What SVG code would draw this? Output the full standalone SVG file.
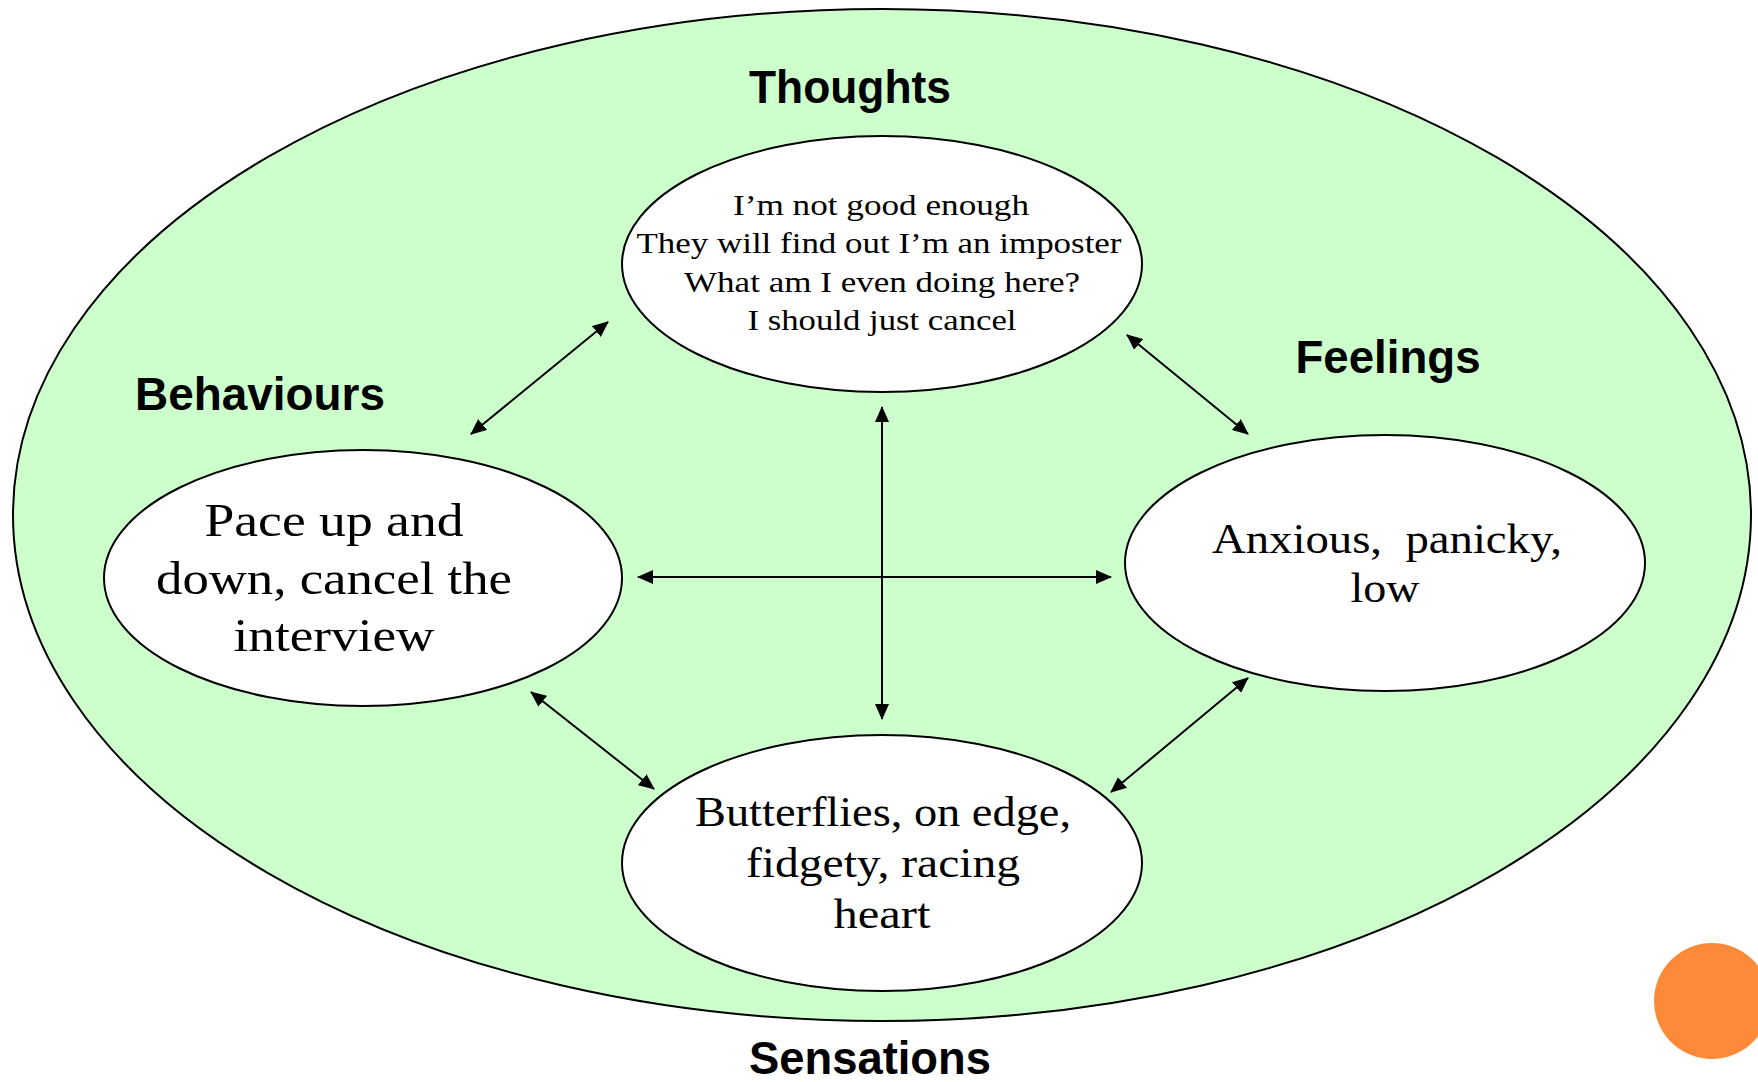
<svg xmlns="http://www.w3.org/2000/svg" width="1758" height="1082" viewBox="0 0 1758 1082">
<defs>
<style>
.outer{fill:#CCFFCC;stroke:#000;stroke-width:2}
.node{fill:#fff;stroke:#000;stroke-width:2}
.lbl{font-family:"Liberation Sans",Arial,sans-serif;font-weight:bold;font-size:47px;fill:#000;text-anchor:middle}
.txt{font-family:"Liberation Serif","Times New Roman",serif;fill:#000;text-anchor:middle}
.conn{stroke:#000;stroke-width:2;fill:none;marker-start:url(#ah);marker-end:url(#ah)}
</style>
<marker id="ah" viewBox="0 0 16 14" refX="15" refY="7" markerWidth="16" markerHeight="14" markerUnits="userSpaceOnUse" orient="auto-start-reverse">
<path d="M0,0 L16,7 L0,14 z" fill="#000"/>
</marker>
</defs>
<rect width="1758" height="1082" fill="#fff"/>
<g id="outer">
<ellipse class="outer" cx="882" cy="515" rx="869" ry="506"/>
</g>
<g id="label-thoughts"><text class="lbl" x="850" y="103" textLength="202" lengthAdjust="spacingAndGlyphs">Thoughts</text></g>
<g id="label-behaviours"><text class="lbl" x="260" y="410" textLength="250" lengthAdjust="spacingAndGlyphs">Behaviours</text></g>
<g id="label-feelings"><text class="lbl" x="1388" y="373" textLength="185" lengthAdjust="spacingAndGlyphs">Feelings</text></g>
<g id="label-sensations"><text class="lbl" x="870" y="1074" textLength="242" lengthAdjust="spacingAndGlyphs">Sensations</text></g>
<g id="connectors">
<line class="conn" x1="471" y1="434" x2="608" y2="322"/>
<line class="conn" x1="1127" y1="335" x2="1248" y2="434"/>
<line class="conn" x1="882" y1="407" x2="882" y2="719"/>
<line class="conn" x1="638" y1="577" x2="1111" y2="577"/>
<line class="conn" x1="531" y1="692" x2="654" y2="789"/>
<line class="conn" x1="1248" y1="678" x2="1111" y2="792"/>
</g>
<g id="node-thoughts">
<ellipse class="node" cx="882" cy="264" rx="260" ry="128"/>
<text class="txt" font-size="29" x="881" y="215" textLength="296" lengthAdjust="spacingAndGlyphs">I’m not good enough</text>
<text class="txt" font-size="29" x="879" y="253" textLength="485" lengthAdjust="spacingAndGlyphs">They will find out I’m an imposter</text>
<text class="txt" font-size="29" x="882" y="292" textLength="396" lengthAdjust="spacingAndGlyphs">What am I even doing here?</text>
<text class="txt" font-size="29" x="882" y="330" textLength="269" lengthAdjust="spacingAndGlyphs">I should just cancel</text>
</g>
<g id="node-behaviours">
<ellipse class="node" cx="363" cy="578" rx="259" ry="128"/>
<text class="txt" font-size="47" x="334" y="536" textLength="259" lengthAdjust="spacingAndGlyphs">Pace up and</text>
<text class="txt" font-size="47" x="334" y="594" textLength="356" lengthAdjust="spacingAndGlyphs">down, cancel the</text>
<text class="txt" font-size="47" x="334" y="651" textLength="201" lengthAdjust="spacingAndGlyphs">interview</text>
</g>
<g id="node-feelings">
<ellipse class="node" cx="1385" cy="563" rx="260" ry="128"/>
<text class="txt" font-size="42" x="1387" y="553" textLength="350" lengthAdjust="spacingAndGlyphs" xml:space="preserve">Anxious,  panicky,</text>
<text class="txt" font-size="42" x="1385" y="602" textLength="69" lengthAdjust="spacingAndGlyphs">low</text>
</g>
<g id="node-sensations">
<ellipse class="node" cx="882" cy="863" rx="260" ry="128"/>
<text class="txt" font-size="42" x="883" y="826" textLength="376" lengthAdjust="spacingAndGlyphs">Butterflies, on edge,</text>
<text class="txt" font-size="42" x="883" y="877" textLength="274" lengthAdjust="spacingAndGlyphs">fidgety, racing</text>
<text class="txt" font-size="42" x="882" y="928" textLength="97" lengthAdjust="spacingAndGlyphs">heart</text>
</g>
<g id="dot">
<circle cx="1712" cy="1001" r="58" fill="#FD8A38"/>
</g>
</svg>
